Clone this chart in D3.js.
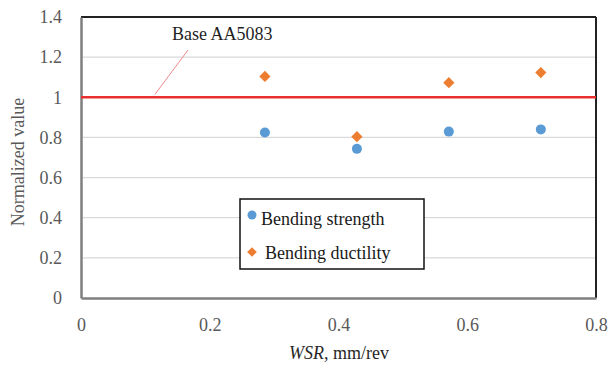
<!DOCTYPE html>
<html>
<head>
<meta charset="utf-8">
<script src="https://cdn.jsdelivr.net/npm/d3@7"></script>
</head>
<body style="margin:0">
<svg id="fig" width="611" height="368"></svg>
<script>
const wsr = [0.2857, 0.4286, 0.5714, 0.7143];
const strength = [0.825, 0.743, 0.829, 0.840];
const ductility = [1.104, 0.804, 1.073, 1.123];
const yTicks = [0, 0.2, 0.4, 0.6, 0.8, 1, 1.2, 1.4];
const xTicks = [0, 0.2, 0.4, 0.6, 0.8];
const baseValue = 1;
const seriesNames = ['Bending strength', 'Bending ductility'];

const FONT = 'Liberation Serif';
const width = 611, height = 368;
const margin = { top: 17, right: 15, bottom: 70, left: 81 };
const chartWidth = width - margin.left - margin.right;
const chartHeight = height - margin.top - margin.bottom;

const svg = d3.select('#fig');
const g = svg.append('g').attr('transform', `translate(${margin.left},${margin.top})`);

const xScale = d3.scaleLinear().domain([0, 0.8]).range([0, chartWidth]);
const yScale = d3.scaleLinear().domain([0, 1.4]).range([chartHeight, 0]);

// gridlines
g.append('g')
  .selectAll('line')
  .data(yTicks.slice(1))
  .enter()
  .append('line')
  .attr('x1', 0)
  .attr('x2', chartWidth)
  .attr('y1', (d) => yScale(d))
  .attr('y2', (d) => yScale(d))
  .attr('stroke', '#d9d9d9')
  .attr('stroke-width', 1.2);

// frame: dark top/right, gray left/bottom
g.append('line').attr('x1', 0).attr('x2', chartWidth).attr('y1', 0).attr('y2', 0)
  .attr('stroke', '#222').attr('stroke-width', 2);
g.append('line').attr('x1', chartWidth).attr('x2', chartWidth).attr('y1', 0).attr('y2', chartHeight)
  .attr('stroke', '#222').attr('stroke-width', 2);

const yAxis = d3.axisLeft(yScale).tickValues(yTicks).tickSize(0).tickPadding(19)
  .tickFormat((d) => d3.format('~g')(d));
const xAxis = d3.axisBottom(xScale).tickValues(xTicks).tickSize(0).tickPadding(20)
  .tickFormat((d) => d3.format('~g')(d));

const yg = g.append('g').call(yAxis);
const xg = g.append('g').attr('transform', `translate(0,${chartHeight})`).call(xAxis);
[yg, xg].forEach((ax) => {
  ax.attr('font-family', FONT).attr('font-size', 18);
  ax.select('.domain').attr('stroke', '#7f7f7f').attr('stroke-width', 2.5);
  ax.selectAll('text').attr('fill', '#595959');
});

// base line
g.append('line')
  .attr('x1', 0)
  .attr('x2', chartWidth)
  .attr('y1', yScale(baseValue))
  .attr('y2', yScale(baseValue))
  .attr('stroke', '#e8312f')
  .attr('stroke-width', 2.5);

// base label + leader
g.append('line')
  .attr('x1', 188 - margin.left)
  .attr('y1', 50 - margin.top)
  .attr('x2', 155 - margin.left)
  .attr('y2', yScale(baseValue) - 3)
  .attr('stroke', '#f08a8a')
  .attr('stroke-width', 1);
g.append('text')
  .attr('x', 172 - margin.left)
  .attr('y', 40 - margin.top)
  .attr('fill', '#1f1f1f')
  .attr('font-size', 18)
  .text('Base AA5083');

// series
const blue = '#5b9bd5', orange = '#ed7d31';
const diamond = d3.symbol().type(d3.symbolDiamond2).size(80);

g.selectAll('.dot-strength')
  .data(wsr.map((x, i) => ({ x, y: strength[i] })))
  .enter()
  .append('circle')
  .attr('class', 'dot-strength')
  .attr('cx', (d) => xScale(d.x))
  .attr('cy', (d) => yScale(d.y))
  .attr('r', 5)
  .attr('fill', blue);

g.selectAll('.dot-ductility')
  .data(wsr.map((x, i) => ({ x, y: ductility[i] })))
  .enter()
  .append('path')
  .attr('class', 'dot-ductility')
  .attr('d', diamond)
  .attr('transform', (d) => `translate(${xScale(d.x)},${yScale(d.y)})`)
  .attr('fill', orange);

// legend
const legend = svg.append('g').attr('transform', 'translate(240,199)').attr('font-size', 18);
legend.append('rect')
  .attr('width', 184)
  .attr('height', 70)
  .attr('fill', '#fff')
  .attr('stroke', '#111')
  .attr('stroke-width', 1.5);
legend.append('circle').attr('cx', 12).attr('cy', 16).attr('r', 4.5).attr('fill', blue);
legend.append('text').attr('x', 21).attr('y', 26).attr('fill', '#1a1a1a').text(seriesNames[0]);
legend.append('path').attr('d', d3.symbol().type(d3.symbolDiamond2).size(60))
  .attr('transform', 'translate(12,53)').attr('fill', orange);
legend.append('text').attr('x', 25).attr('y', 60).attr('fill', '#1a1a1a').text(seriesNames[1]);

// axis titles
svg.append('text')
  .attr('transform', 'translate(24,162) rotate(-90)')
  .attr('text-anchor', 'middle')
  .attr('fill', '#595959')
  .attr('font-size', 18)
  .text('Normalized value');

const xt = svg.append('text')
  .attr('x', 339)
  .attr('y', 359)
  .attr('text-anchor', 'middle')
  .attr('fill', '#262626')
  .attr('font-size', 18);
xt.append('tspan').attr('font-style', 'italic').text('WSR');
xt.append('tspan').text(', mm/rev');

// serif everywhere, set inline so nothing overrides it
svg.selectAll('text').attr('font-family', FONT).style('font-family', FONT);
</script>
</body>
</html>
